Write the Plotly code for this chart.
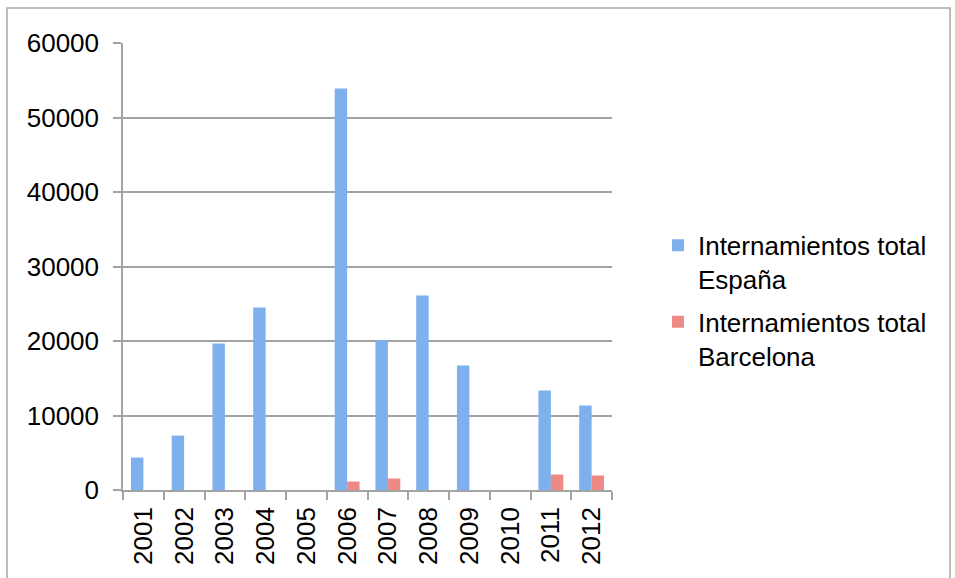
import plotly.graph_objects as go

years = ["2001", "2002", "2003", "2004", "2005", "2006", "2007", "2008", "2009", "2010", "2011", "2012"]
espana = [4350, 7300, 19650, 24500, 0, 53900, 20150, 26100, 16700, 0, 13350, 11350]
barcelona = [0, 0, 0, 0, 0, 1140, 1540, 0, 0, 0, 2080, 1950]
y_ticks = [0, 10000, 20000, 30000, 40000, 50000, 60000]

FONT = "Liberation Sans, Arial, sans-serif"
GRID = "#A3A3A3"
FS = 26

fig = go.Figure()
fig.add_trace(go.Bar(x=years, y=espana, name="Internamientos total<br>España",
                     legendgroup="es",
                     marker=dict(color="#7DB0EC", line=dict(width=0))))
fig.add_trace(go.Bar(x=years, y=barcelona, name="Internamientos total<br>Barcelona",
                     legendgroup="bcn",
                     marker=dict(color="#EE8A85", line=dict(width=0))))

fig.update_layout(
    width=955, height=578,
    margin=dict(l=123, r=343, t=43, b=88, autoexpand=False),
    paper_bgcolor="white", plot_bgcolor="white",
    barmode="group", bargap=0.39, bargroupgap=0,
    font=dict(family=FONT, size=FS, color="black"),
    showlegend=True,
    legend=dict(x=1.094, xanchor="left", y=0.60, yanchor="top",
                font=dict(family=FONT, size=FS, color="black"),
                valign="top", bgcolor="rgba(0,0,0,0)", tracegroupgap=6),
    shapes=[dict(type="rect", xref="paper", yref="paper",
                 x0=(7 - 123) / 489, x1=(950 - 123) / 489,
                 y0=(490 - 620) / 447, y1=(490 - 8) / 447,
                 line=dict(color="#A8A8A8", width=1.5), fillcolor="rgba(0,0,0,0)",
                 layer="below")],
)
fig.update_xaxes(
    type="category", tickangle=-90, tickson="boundaries", automargin=False,
    ticks="outside", ticklen=8, tickcolor=GRID, tickwidth=1.5,
    showline=True, linecolor=GRID, linewidth=1.5, ticklabelstandoff=5,
    showgrid=False, tickfont=dict(family=FONT, size=FS, color="black"),
)
fig.update_yaxes(
    range=[0, 60000], tickvals=y_ticks, ticktext=[str(v) for v in y_ticks],
    automargin=False, ticklabelstandoff=9,
    ticks="outside", ticklen=8, tickcolor=GRID, tickwidth=1.5,
    showline=True, linecolor=GRID, linewidth=1.5,
    showgrid=True, gridcolor=GRID, gridwidth=1.5, zeroline=False,
    tickfont=dict(family=FONT, size=FS, color="black"),
)

fig.write_html("out.html", config={"displayModeBar": False},
               post_script="document.body.style.margin='0';")
